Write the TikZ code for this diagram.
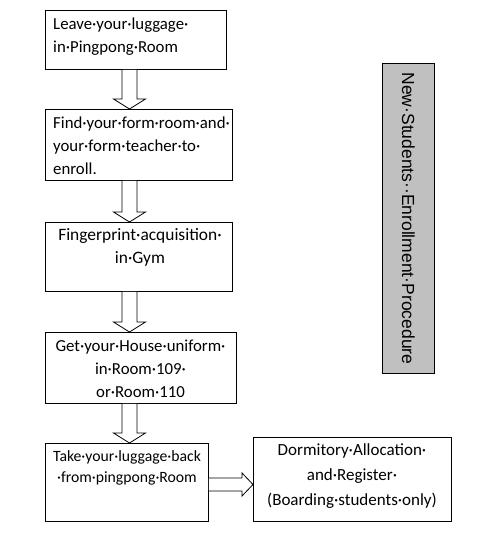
\documentclass[tikz,border=0pt]{standalone}
\usepackage{fontspec}
\setmainfont{Carlito}
\newfontfamily\titlefont{Liberation Sans}
\usetikzlibrary{calc}
\tikzset{
  box/.style={draw=black, line width=0.9pt, fill=white, anchor=north west, inner sep=0pt},
  txt/.style={inner sep=0pt, font=\fontsize{16.8}{23}\selectfont, text=black},
  barrow/.style={draw=black, line width=0.8pt, fill=white},
}
\begin{document}
\begin{tikzpicture}[x=1pt,y=-1pt]
\useasboundingbox (0,0) rectangle (500,533);
% boxes
\node[box, minimum width=181, minimum height=59] (b1) at (45,10) {};
\node[box, minimum width=187, minimum height=71] (b2) at (45,109) {};
\node[box, minimum width=187, minimum height=69] (b3) at (45,222) {};
\node[box, minimum width=191, minimum height=71] (b4) at (45,332) {};
\node[box, minimum width=163, minimum height=78] (b5) at (45,443) {};
\node[box, minimum width=198, minimum height=84] (b6) at (253,437) {};
\node[box, fill={rgb,255:red,192;green,192;blue,192}, minimum width=52, minimum height=310] (bt) at (382,63) {};
% texts
\node[txt, align=left, anchor=west] (t1) at (53,36.5) {Leave·your·luggage·\\in·Pingpong·Room};
\node[txt, align=left, anchor=west] (t2) at (53,145.5) {Find·your·form·room·and·\\your·form·teacher·to·\\enroll.};
\node[txt, align=center, font=\fontsize{17.4}{23}\selectfont] (t3) at (140,247.5) {Fingerprint·acquisition·\\in·Gym};
\node[txt, align=center] (t4) at (140.5,369) {Get·your·House·uniform·\\in·Room·109·\\or·Room·110};
\node[txt, align=center, font=\fontsize{15.7}{21}\selectfont] (t5) at (127,467.5) {Take·your·luggage·back\\·from·pingpong·Room};
\node[txt, align=center, font=\fontsize{17}{25}\selectfont] (t6) at (352,476) {Dormitory·Allocation·\\and·Register·\\(Boarding·students·only)};
\node[inner sep=0pt, rotate=-90, font=\titlefont\fontsize{17.5}{20}\selectfont] (tt) at (bt.center) {New·Students··Enrollment·Procedure};
% block arrows
\coordinate (ax) at (129.5,0);
\foreach \a/\b in {b1/b2,b2/b3,b3/b4,b4/b5}{
  \draw[barrow] let \p1=(\a.south -| ax), \p2=(\b.north -| ax) in
    (\x1-7.5pt,\y1) -- (\x1-7.5pt,\y2+10pt) -- (\x1-16pt,\y2+10pt) -- (\x2,\y2)
    -- (\x1+16pt,\y2+10pt) -- (\x1+7.5pt,\y2+10pt) -- (\x1+7.5pt,\y1);
}
\coordinate (ay) at (0,484.5);
\draw[barrow] let \p1=(b5.east |- ay), \p2=(b6.west |- ay) in
  (\x1,\y1+6.5pt) -- (\x2-11pt,\y1+6.5pt) -- (\x2-11pt,\y1+11.5pt) -- (\x2,\y2)
  -- (\x2-11pt,\y1-11.5pt) -- (\x2-11pt,\y1-6.5pt) -- (\x1,\y1-6.5pt);
\end{tikzpicture}
\end{document}
